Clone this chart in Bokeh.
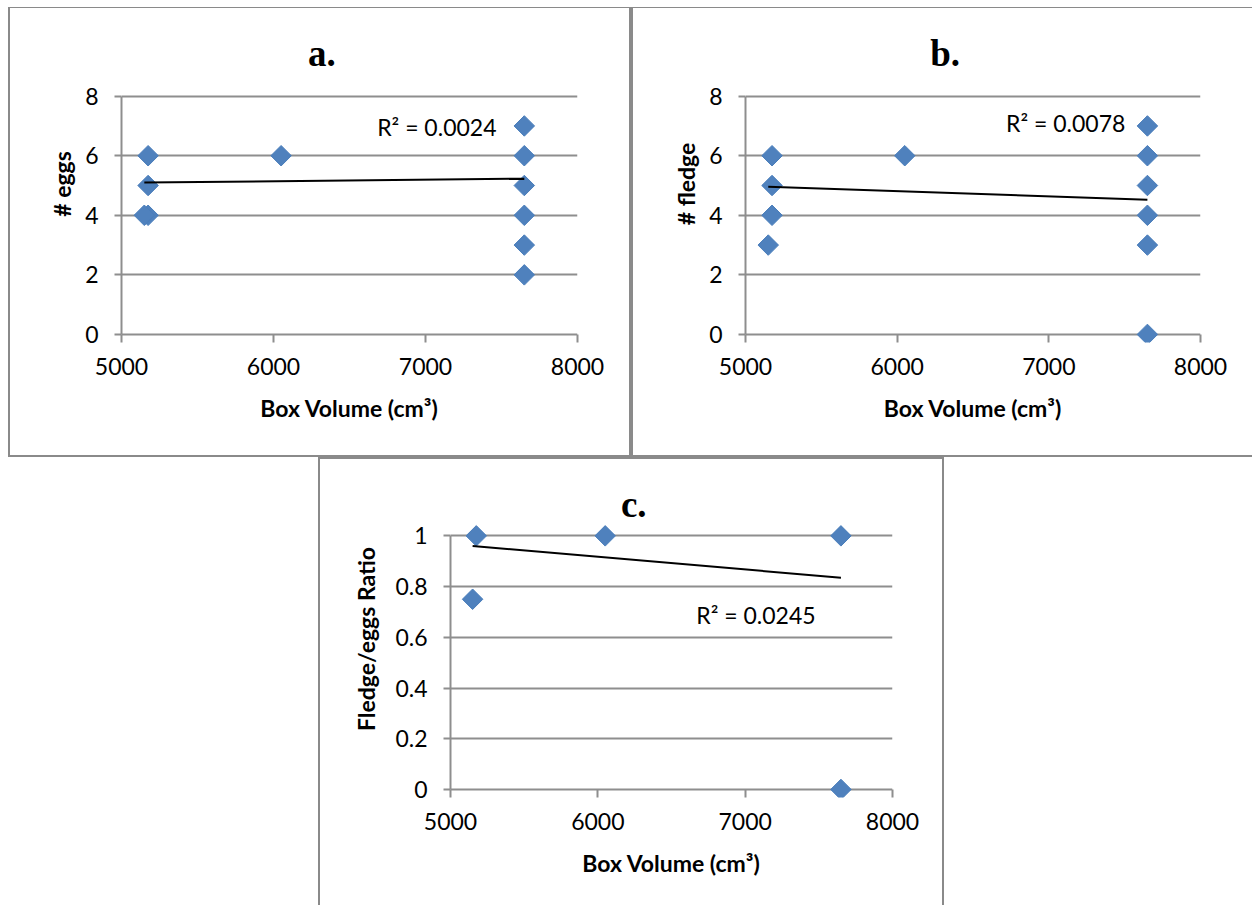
import numpy as np
from bokeh.plotting import figure
from bokeh.models import Range1d, FixedTicker, Label, Spacer
from bokeh.layouts import row, column
from bokeh.embed import file_html
from bokeh.resources import INLINE

# ---- data ----
x_ticks = [5000, 6000, 7000, 8000]
y_ticks_ab = [0, 2, 4, 6, 8]
y_ticks_c = [0, 0.2, 0.4, 0.6, 0.8, 1.0]
y_labels_c = ["0", "0.2", "0.4", "0.6", "0.8", "1"]

eggs_x = [5175, 5175, 5175, 5150, 6050, 7650, 7650, 7650, 7650, 7650, 7650]
eggs_y = [6, 5, 4, 4, 6, 7, 6, 5, 4, 3, 2]
fledge_x = [5175, 5175, 5175, 5150, 6050, 7650, 7650, 7650, 7650, 7650, 7650]
fledge_y = [6, 5, 4, 3, 6, 7, 6, 5, 4, 3, 0]
ratio_x = [5175, 5150, 6050, 7650, 7650]
ratio_y = [1.0, 0.75, 1.0, 1.0, 0.0]

trend_x = [5150, 7650]
trend_eggs = [5.10, 5.23]
trend_fledge = [4.96, 4.52]
trend_ratio = [0.96, 0.835]

titles = ["a.", "b.", "c."]
y_titles = ["# eggs", "# fledge", "Fledge/eggs Ratio"]
x_title = "Box Volume (cm\u00b3)"
r2_texts = ["R\u00b2 = 0.0024", "R\u00b2 = 0.0078", "R\u00b2 = 0.0245"]

GRID = "#8e8e8e"
BORDER = "#8a8a8a"
BLUE = "#4F81BD"
FONT = "Lato"
BOTTOM_PAD = 8
TEXT_SHIFT = 10


def panel(canvas, x5000, x8000, y0, ytop, ytick_max, ftop,
          border, yticks, xs, ys, ty, title, title_px, ytitle, r2, r2_px,
          ylabels=None, ylabel_standoff=6):
    cx, cy, cw, ch = canvas
    fbot = y0 + BOTTOM_PAD
    fl = x5000 - cx
    fw = x8000 - x5000
    ft = ftop - cy
    fh = fbot - ftop
    ppu = (y0 - ytop) / ytick_max
    ymin = -(fbot - y0) / ppu
    ymax = (y0 - ftop) / ppu

    def dx(px):
        return 5000 + (px - x5000) / fw * 3000

    def dy(py):
        return (y0 - py) / ppu

    p = figure(output_backend="svg", toolbar_location=None,
               x_range=Range1d(5000, 8000), y_range=Range1d(ymin, ymax),
               frame_width=fw, frame_height=fh,
               min_border_left=fl, min_border_top=ft,
               min_border_right=cw - fl - fw, min_border_bottom=ch - ft - fh)
    p.styles = border
    p.outline_line_color = None
    p.background_fill_color = "white"
    p.border_fill_color = "white"
    p.xgrid.visible = False
    p.ygrid.ticker = FixedTicker(ticks=yticks)
    p.ygrid.grid_line_color = GRID
    p.ygrid.grid_line_width = 2
    for ax in (p.xaxis[0], p.yaxis[0]):
        ax.axis_line_color = GRID
        ax.axis_line_width = 2
        ax.major_tick_line_color = GRID
        ax.major_tick_line_width = 2
        ax.major_tick_in = 0
        ax.major_tick_out = 7
        ax.minor_tick_line_color = None
        ax.major_label_text_font = FONT
        ax.major_label_text_font_size = "23px"
        ax.major_label_text_color = "black"
        ax.axis_label_text_font = FONT
        ax.axis_label_text_font_size = "23px"
        ax.axis_label_text_font_style = "bold"
        ax.axis_label_text_color = "black"
    p.xaxis.ticker = FixedTicker(ticks=x_ticks)
    p.yaxis.ticker = FixedTicker(ticks=yticks)
    p.yaxis.bounds = (0, ytick_max)
    # x axis sits at the frame bottom, just under the zero line: its ticks
    # reach up to the zero gridline, which acts as the axis line
    p.xaxis.axis_line_color = None
    p.xaxis.major_tick_in = BOTTOM_PAD
    p.xaxis.major_tick_out = 0
    if ylabels is not None:
        p.yaxis.major_label_overrides = {t: l for t, l in zip(yticks, ylabels)}
    p.xaxis.major_label_standoff = 15
    p.yaxis.major_label_standoff = 16
    p.xaxis.axis_label = x_title
    p.yaxis.axis_label = ytitle
    p.xaxis.axis_label_standoff = 16
    p.yaxis.axis_label_standoff = ylabel_standoff

    p.scatter(xs, ys, marker="square", angle=np.pi / 4, size=14.5,
              fill_color=BLUE, line_color="#4A7EBB", line_width=1)
    p.line(trend_x, ty, line_color="black", line_width=2)

    p.add_layout(Label(x=dx(title_px[0]), y=dy(title_px[1] - TEXT_SHIFT), text=title,
                       text_font="Liberation Serif", text_font_style="bold",
                       text_font_size="37px", text_align="center",
                       text_baseline="alphabetic", text_color="black"))
    p.add_layout(Label(x=dx(r2_px[0]), y=dy(r2_px[1] - TEXT_SHIFT), text=r2,
                       text_font=FONT, text_font_size="23px",
                       text_align="right", text_baseline="alphabetic",
                       text_color="black"))
    return p


side = "2px solid " + BORDER
bA = {"border-left": side, "border-right": side,
      "border-top": "1px solid " + BORDER, "border-bottom": side}
bB = {"border-left": side,
      "border-top": "1px solid " + BORDER, "border-bottom": side}
bC = {"border-left": side, "border-right": side, "border-top": side}

pa = panel((10, 8, 619, 447), 121, 573, 331, 95, 8, 25, bA,
           y_ticks_ab, eggs_x, eggs_y, trend_eggs, titles[0], (319.5, 62.7),
           y_titles[0], r2_texts[0], (492.7, 136))
pb = panel((633, 8, 619, 447), 745, 1198, 331, 95, 8, 25, bB,
           y_ticks_ab, fledge_x, fledge_y, trend_fledge, titles[1], (943.8, 62.7),
           y_titles[1], r2_texts[1], (1123.2, 131.7))
pc = panel((320, 459, 622, 446), 450, 888, 787, 535, 1, 480, bC,
           y_ticks_c, ratio_x, ratio_y, trend_ratio, titles[2], (631.6, 514.3),
           y_titles[2], r2_texts[2], (811.8, 623.3), ylabels=y_labels_c,
           ylabel_standoff=12)

layout = column(Spacer(height=7),
                row(Spacer(width=8), pa, pb, spacing=0),
                row(Spacer(width=318), pc, spacing=0), spacing=0)

with open("out.html", "w") as f:
    f.write(file_html(layout, INLINE))
